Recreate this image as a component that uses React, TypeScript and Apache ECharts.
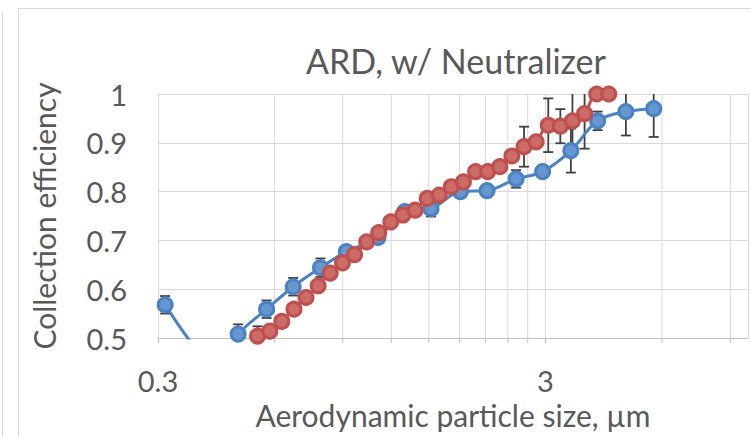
import React, { useEffect, useRef } from 'react';
import * as echarts from 'echarts';

// Axis reference: x axis is logarithmic and starts at 0.3 µm
const X_REF = 0.3;
const X_MAX = 10;
const Y_MIN = 0.5;
const Y_MAX = 1;
const Y_STEP = 0.1;

const titleText = 'ARD, w/ Neutralizer';
const xAxisName = 'Aerodynamic particle size, µm';
const yAxisName = 'Collection efficiency';

// Blue series (aerodynamic size in µm, collection efficiency, error)
const blueSize = [0.313, 0.37, 0.42, 0.483, 0.572, 0.67, 0.788, 0.919, 1.109, 1.3, 1.52, 1.81, 2.12, 2.52, 2.95, 3.49, 4.09, 4.84, 5.71];
const blueEff = [0.568, 0.485, 0.44, 0.508, 0.559, 0.605, 0.644, 0.677, 0.706, 0.759, 0.765, 0.8, 0.802, 0.826, 0.841, 0.884, 0.945, 0.964, 0.97];
const blueErr = [0.018, 0, 0, 0.02, 0.018, 0.018, 0.019, 0.012, 0.012, 0.012, 0.016, 0.012, 0.012, 0.018, 0.012, 0.045, 0.019, 0.049, 0.058];

// Red series
const redSize = [0.542, 0.583, 0.626, 0.673, 0.723, 0.777, 0.835, 0.898, 0.965, 1.037, 1.114, 1.197, 1.286, 1.382, 1.486, 1.596, 1.715, 1.843, 1.981, 2.129, 2.288, 2.458, 2.642, 2.839, 3.051, 3.278, 3.523, 3.786, 4.068, 4.371];
const redEff = [0.504, 0.514, 0.534, 0.559, 0.583, 0.607, 0.633, 0.654, 0.671, 0.697, 0.716, 0.738, 0.752, 0.762, 0.786, 0.793, 0.81, 0.82, 0.841, 0.841, 0.851, 0.873, 0.892, 0.902, 0.936, 0.934, 0.945, 0.96, 1.0, 1.0];
const redErr = [0.02, 0.008, 0.008, 0.008, 0.008, 0.008, 0.008, 0.008, 0.008, 0.008, 0.008, 0.008, 0.008, 0.008, 0.008, 0.008, 0.008, 0.008, 0.008, 0.008, 0.008, 0.008, 0.041, 0.008, 0.055, 0.035, 0.065, 0.072, 0, 0];

// Minor vertical gridlines (µm)
const minorGridSizes = [0.6, 0.9, 1.2, 1.5, 1.8, 2.1, 2.4, 2.7, 6, 9];

const BLUE = '#4a82c3';
const BLUE_FILL = '#6797d0';
const RED = '#c0504d';
const RED_FILL = '#cc6c69';
const TEXT = '#595959';
const GRID = '#d9d9d9';
const FONT = 'Lato';

const toX = (s: number) => s / X_REF;

function errRender(params: any, api: any) {
  const x = api.value(0);
  const y = api.value(1);
  const e = api.value(2);
  if (!(e > 0) || y < Y_MIN || y > Y_MAX) return null;
  const lo = Math.max(y - e, Y_MIN);
  const hi = Math.min(y + e, Y_MAX);
  const p1 = api.coord([x, hi]);
  const p2 = api.coord([x, lo]);
  const style = { stroke: '#404040', lineWidth: 1.8 };
  const cw = 5;
  const children: any[] = [
    { type: 'line', shape: { x1: p1[0], y1: p1[1], x2: p2[0], y2: p2[1] }, style },
  ];
  if (y + e <= Y_MAX) children.push({ type: 'line', shape: { x1: p1[0] - cw, y1: p1[1], x2: p1[0] + cw, y2: p1[1] }, style });
  if (y - e >= Y_MIN) children.push({ type: 'line', shape: { x1: p2[0] - cw, y1: p2[1], x2: p2[0] + cw, y2: p2[1] }, style });
  return { type: 'group', children };
}

function gridRender(params: any, api: any) {
  const x = api.value(0);
  const top = api.coord([x, Y_MAX]);
  const bot = api.coord([x, Y_MIN]);
  return {
    type: 'group',
    children: [
      { type: 'line', shape: { x1: top[0], y1: top[1], x2: bot[0], y2: bot[1] }, style: { stroke: GRID, lineWidth: 1 } },
      { type: 'line', shape: { x1: bot[0], y1: bot[1], x2: bot[0], y2: bot[1] + 5 }, style: { stroke: '#bfbfbf', lineWidth: 1 } },
    ],
  };
}

export default function App() {
  const ref = useRef<HTMLDivElement>(null);
  useEffect(() => {
    if (!ref.current) return;
    const chart = echarts.init(ref.current, null, { renderer: 'svg' });
    const lineSeries = (name: string, xs: number[], ys: number[], color: string, fill: string, z: number, clip: boolean) => ({
      type: 'line',
      name,
      data: xs.map((s, i) => [toX(s), ys[i]]),
      smooth: 0.35,
      clip,
      z,
      symbol: 'circle',
      symbolSize: 14,
      showSymbol: true,
      lineStyle: { color, width: 3 },
      itemStyle: { color: fill, borderColor: color, borderWidth: 3 },
      emphasis: { disabled: true },
      silent: true,
    });
    const errSeries = (xs: number[], ys: number[], es: number[], z: number) => ({
      type: 'custom',
      renderItem: errRender,
      data: xs.map((s, i) => [toX(s), ys[i], es[i]]),
      encode: { x: 0, y: 1 },
      clip: false,
      z,
      silent: true,
    });
    chart.setOption({
      animation: false,
      backgroundColor: '#ffffff',
      textStyle: { fontFamily: FONT },
      title: {
        text: titleText,
        left: 306,
        top: 43,
        padding: 0,
        textStyle: { fontFamily: FONT, fontSize: 34, fontWeight: 'normal', color: TEXT },
      },
      grid: { left: 158, top: 94, right: 3, bottom: 99, containLabel: false },
      xAxis: {
        type: 'log',
        logBase: 10,
        min: toX(X_REF),
        max: toX(X_MAX),
        name: xAxisName,
        nameLocation: 'middle',
        nameGap: 54,
        nameTextStyle: { fontFamily: FONT, fontSize: 30, color: TEXT },
        axisLine: { show: true, lineStyle: { color: '#bfbfbf', width: 1 } },
        axisTick: { show: true, length: 5, lineStyle: { color: '#bfbfbf' } },
        splitLine: { show: true, lineStyle: { color: GRID, width: 1 } },
        minorTick: { show: false },
        minorSplitLine: { show: false },
        axisLabel: {
          fontFamily: FONT,
          fontSize: 29,
          color: TEXT,
          margin: 28,
          showMaxLabel: false,
          formatter: (v: number) => {
            const l = Math.log10(v);
            if (Math.abs(l - Math.round(l)) > 1e-6) return '';
            const u = v * X_REF;
            return String(parseFloat(u.toPrecision(3)));
          },
        },
      },
      yAxis: {
        type: 'value',
        min: Y_MIN,
        max: Y_MAX,
        interval: Y_STEP,
        name: yAxisName,
        nameLocation: 'middle',
        nameGap: 99,
        nameTextStyle: { fontFamily: FONT, fontSize: 30, color: TEXT },
        axisLine: { show: true, lineStyle: { color: GRID, width: 1 } },
        axisTick: { show: false },
        splitLine: { show: true, lineStyle: { color: GRID, width: 1 } },
        axisLabel: { fontFamily: FONT, fontSize: 29, color: TEXT, margin: 31 },
      },
      graphic: [
        { type: 'rect', shape: { x: 18.5, y: 8.5, width: 800, height: 500 }, style: { fill: 'none', stroke: GRID, lineWidth: 1 }, silent: true, z: -10 },
        { type: 'line', shape: { x1: 2.5, y1: 12, x2: 2.5, y2: 437 }, style: { stroke: GRID, lineWidth: 1 }, silent: true, z: -10 },
      ],
      series: [
        {
          type: 'custom',
          renderItem: gridRender,
          data: minorGridSizes.map((s) => [toX(s), Y_MIN]),
          encode: { x: 0, y: 1 },
          clip: false,
          z: 1,
          silent: true,
        },
        errSeries(blueSize, blueEff, blueErr, 2),
        errSeries(redSize, redEff, redErr, 2),
        lineSeries('Blue', blueSize, blueEff, BLUE, BLUE_FILL, 3, true),
        lineSeries('Red', redSize, redEff, RED, RED_FILL, 4, false),
      ],
    });
    return () => chart.dispose();
  }, []);
  return <div ref={ref} style={{ position: 'fixed', left: 0, top: 0, width: 751, height: 437, background: '#fff' }} />;
}
